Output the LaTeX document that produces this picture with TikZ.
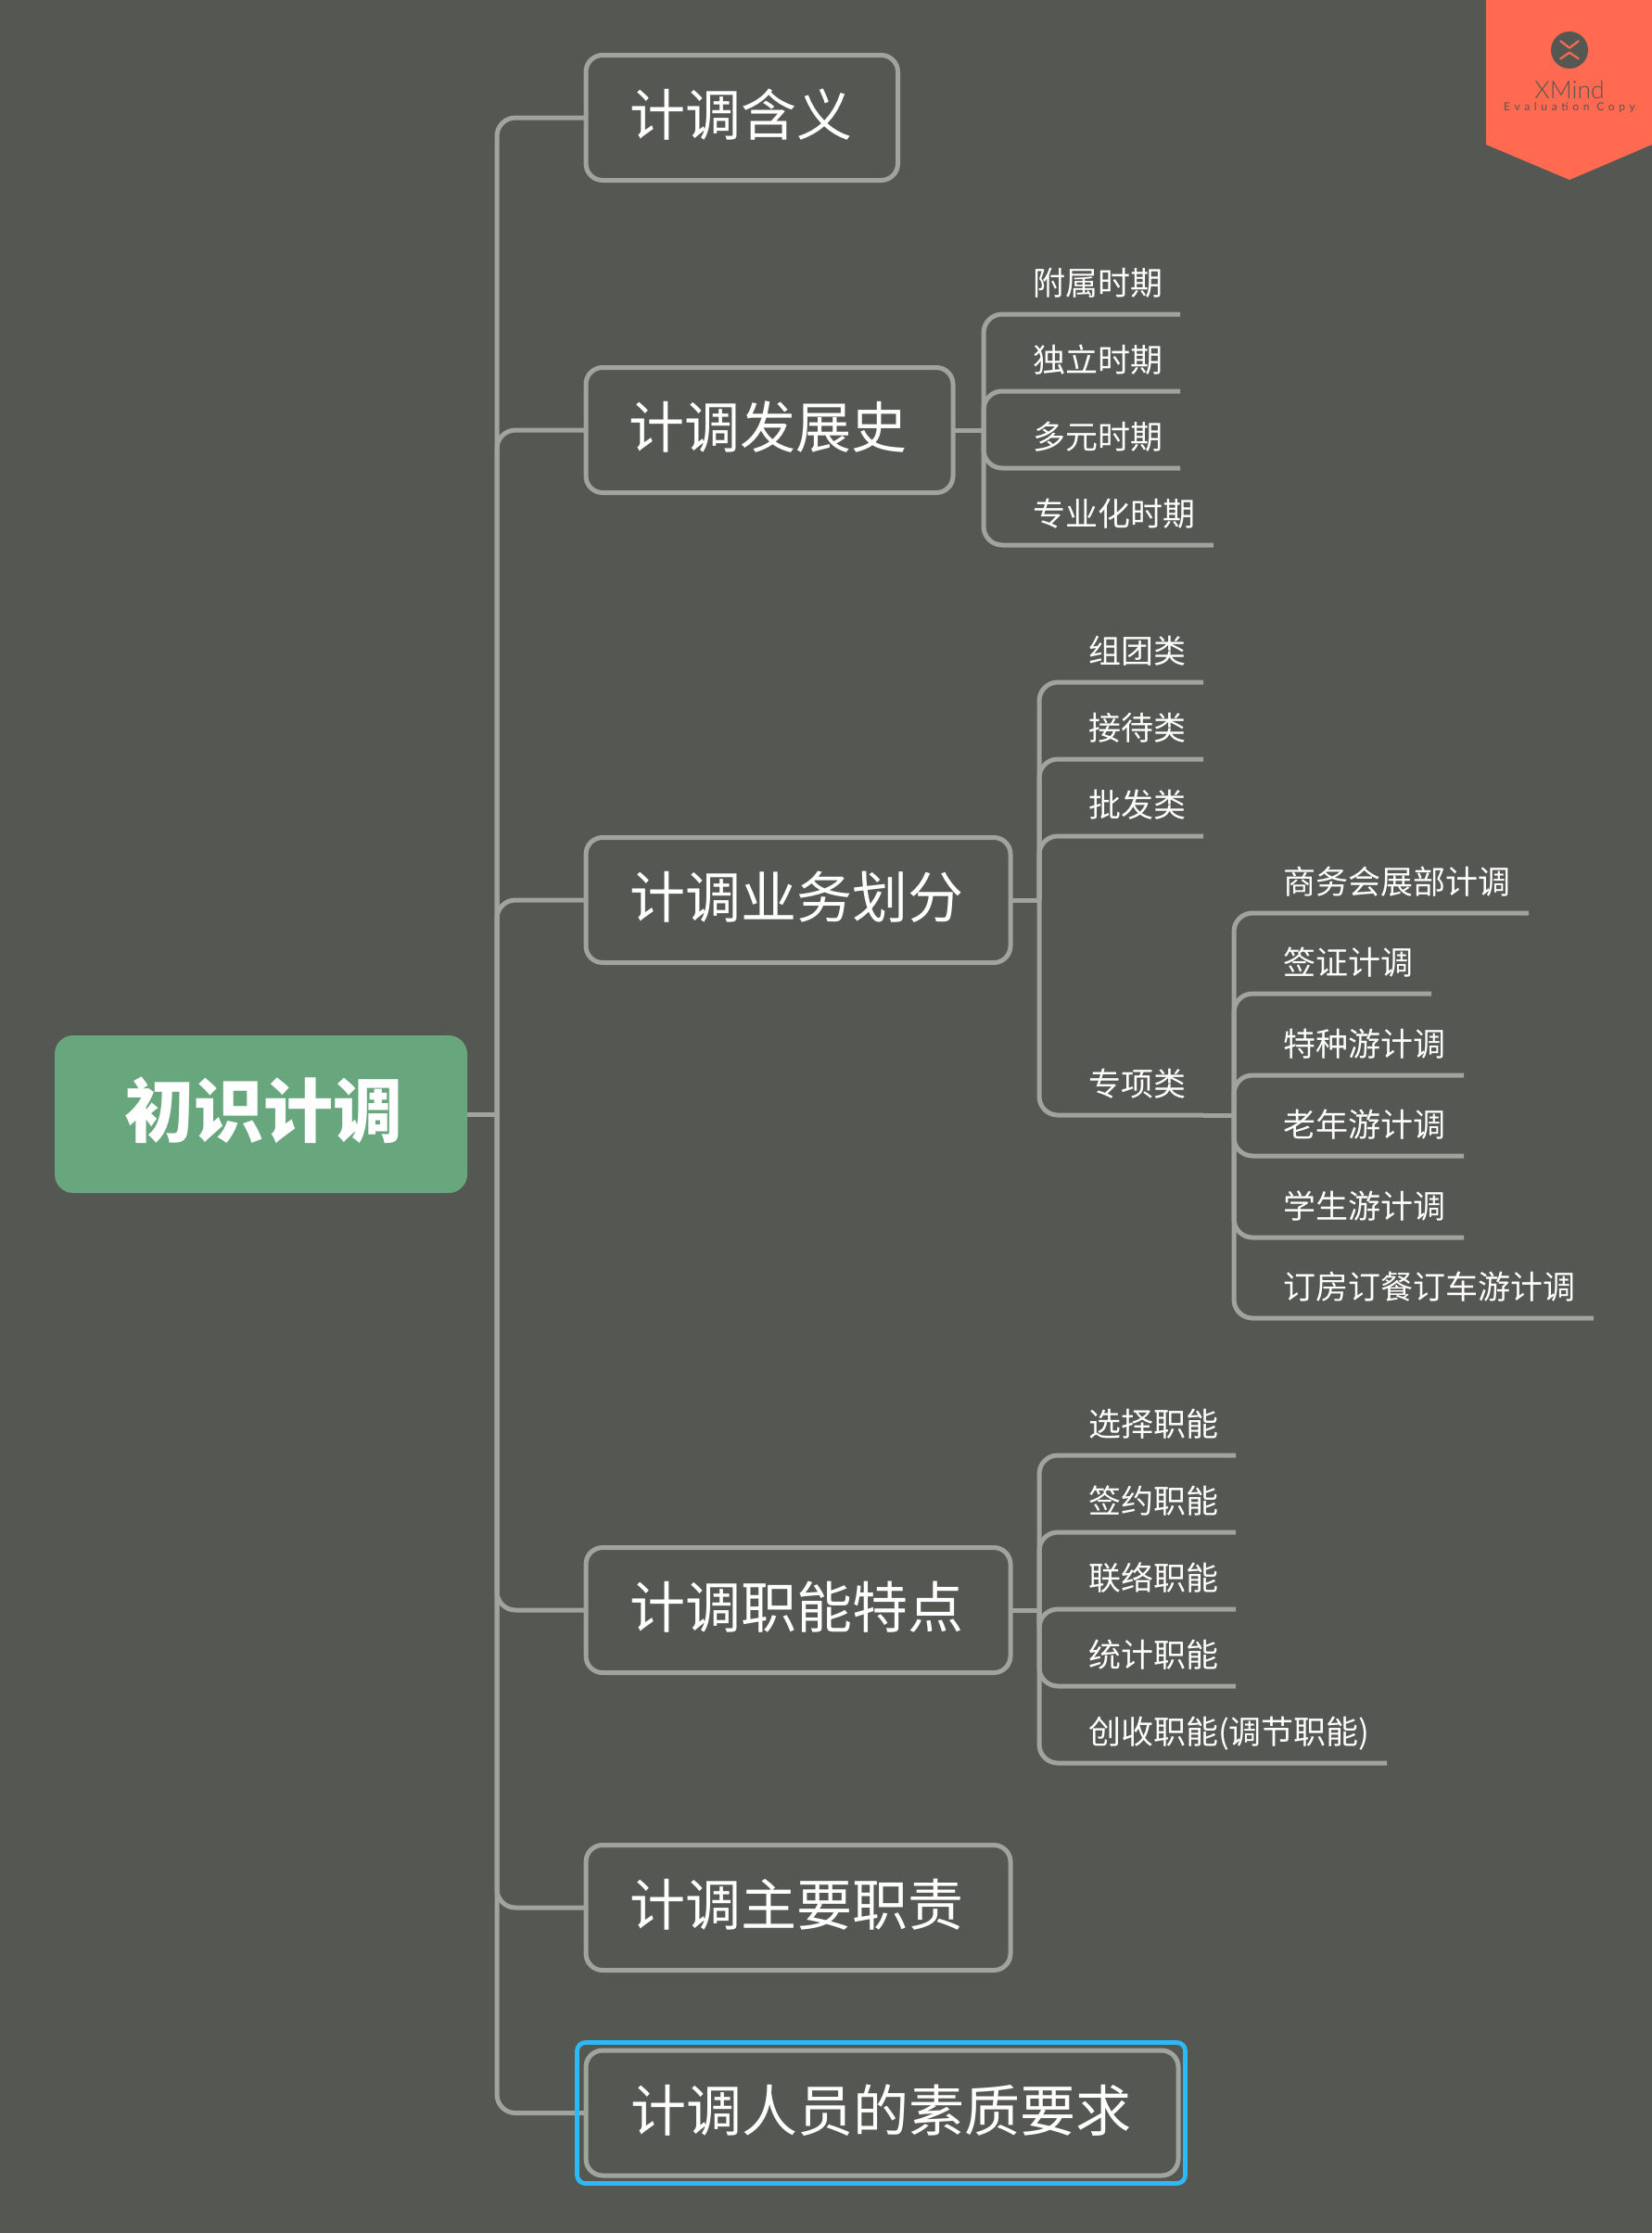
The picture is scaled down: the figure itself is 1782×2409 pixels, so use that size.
\documentclass[tikz,border=0pt]{standalone}
\usepackage{fontspec}
\setmainfont{Noto Sans CJK SC}
\newfontfamily\latinmark{Lato Light}
\newfontfamily\latinsmall{Lato}
\definecolor{bgc}{HTML}{555753}
\definecolor{linec}{HTML}{A0A39E}
\definecolor{rootc}{HTML}{68A67E}
\definecolor{flagc}{HTML}{FF6A50}
\definecolor{selc}{HTML}{2DB9F5}
\tikzset{
  rootbox/.style={fill=rootc,rounded corners=10pt,inner sep=0pt,outer sep=0pt,minimum width=222.5pt,minimum height=85pt,text=white,text height=31pt,text depth=6.3pt,font=\fontsize{37.5pt}{37.5pt}\selectfont\bfseries},
  mainbox/.style={draw=linec,line width=2.5pt,rounded corners=9pt,inner sep=0pt,outer sep=0pt,minimum height=67.5pt,anchor=west,text=white,text height=24pt,text depth=4.2pt,font=\fontsize{30pt}{30pt}\selectfont},
  selbox/.style={draw=selc,line width=2.4pt,rounded corners=4.5pt,inner sep=0pt,outer sep=0pt,minimum width=328pt,minimum height=76pt},
  leaf/.style={inner sep=0pt,outer sep=0pt,minimum height=34pt,anchor=south west,align=left,text=white,text height=15pt,text depth=1.7pt,font=\fontsize{17.5pt}{17.5pt}\selectfont},
  conn/.style={draw=linec,line width=2.5pt,rounded corners=10pt}
}
\begin{document}
\begin{tikzpicture}[x=0.5pt,y=-0.5pt]
\fill[bgc] (0,0) rectangle (1782,2409);
\useasboundingbox (0,0) rectangle (1782,2409);
% evaluation flag
\fill[flagc] (1603,0) -- (1782,0) -- (1782,156) -- (1693,194) -- (1603,156) -- cycle;
\fill[bgc] (1693,54) circle[radius=20];
\draw[flagc,line width=1.1pt,line cap=round,line join=round] (1683.3,44.3) -- (1693,51.7) -- (1702.7,44.3);
\draw[flagc,line width=1.1pt,line cap=round,line join=round] (1683.3,63.3) -- (1693,56.7) -- (1702.7,63.3);
\node[text=bgc,inner sep=0pt,font=\latinmark\fontsize{13.2pt}{13.2pt}\selectfont] (wm1) at (1693,97) {XMind};
\node[text=bgc,inner sep=0pt,font=\latinsmall\fontsize{6pt}{6pt}\selectfont] (wm2) at (1693,116) {\addfontfeatures{LetterSpace=39}Evaluation Copy};

% root and main topics
\node[rootbox] (root) at (281.5,1202) {\hspace*{3pt}初识计调};
\coordinate (spine) at (536,1202);
\node[mainbox,minimum width=168.25pt] (t1) at (632,127) {\hspace*{-1pt}计调含义};
\node[mainbox,minimum width=198pt] (t2) at (632,464) {\hspace*{-2pt}计调发展史};
\node[mainbox,minimum width=229pt] (t3) at (632,971) {\hspace*{-2pt}计调业务划分};
\node[mainbox,minimum width=229pt] (t4) at (632,1737) {\hspace*{-2pt}计调职能特点};
\node[mainbox,minimum width=229pt] (t5) at (632,2058) {\hspace*{-2pt}计调主要职责};
\node[mainbox,minimum width=319.5pt] (t6) at (632,2279.5) {\hspace*{-1pt}计调人员的素质要求};

\draw[conn] (root.east) -- (spine);
\foreach \t in {t1,t2,t3,t4,t5,t6}{\draw[conn] (spine) |- (\t.west);}

% history
\coordinate (b2) at (1061,464);
\draw[conn] (t2.east) -- (b2);
\node[leaf,text width=79.5pt] (a1) at (1114,339) {附属时期};
\node[leaf,text width=79.5pt] (a2) at (1114,422) {独立时期};
\node[leaf,text width=79.5pt] (a3) at (1114,505) {多元时期};
\node[leaf,text width=97.5pt] (a4) at (1114,588) {专业化时期};
\foreach \n in {a1,a2,a3,a4}{\draw[conn] (b2) |- (\n.south west) -- (\n.south east);}

% business
\coordinate (b3) at (1121,971);
\draw[conn] (t3.east) -- (b3);
\node[leaf,text width=62pt] (c1) at (1174,736) {组团类};
\node[leaf,text width=62pt] (c2) at (1174,819) {接待类};
\node[leaf,text width=62pt] (c3) at (1174,902) {批发类};
\node[leaf,text width=62pt] (c4) at (1174,1203) {专项类};
\foreach \n in {c1,c2,c3,c4}{\draw[conn] (b3) |- (\n.south west) -- (\n.south east);}

% special
\coordinate (b4) at (1331,1203);
\draw[conn] (c4.south east) -- (b4);
\node[leaf,text width=132.5pt] (d1) at (1384,985) {商务会展部计调};
\node[leaf,text width=80pt] (d2) at (1384,1072) {签证计调};
\node[leaf,text width=97.5pt] (d3) at (1384,1160) {特种游计调};
\node[leaf,text width=97.5pt] (d4) at (1384,1247) {老年游计调};
\node[leaf,text width=97.5pt] (d5) at (1384,1335) {学生游计调};
\node[leaf,text width=167.5pt] (d6) at (1384,1422) {订房订餐订车游计调};
\foreach \n in {d1,d2,d3,d4,d5,d6}{\draw[conn] (b4) |- (\n.south west) -- (\n.south east);}

% functions
\coordinate (b5) at (1121,1737);
\draw[conn] (t4.east) -- (b5);
\node[leaf,text width=79.5pt] (e1) at (1174,1570) {选择职能};
\node[leaf,text width=79.5pt] (e2) at (1174,1653) {签约职能};
\node[leaf,text width=79.5pt] (e3) at (1174,1736) {联络职能};
\node[leaf,text width=79.5pt] (e4) at (1174,1819) {统计职能};
\node[leaf,text width=161pt] (e5) at (1174,1902) {创收职能(调节职能)};
\foreach \n in {e1,e2,e3,e4,e5}{\draw[conn] (b5) |- (\n.south west) -- (\n.south east);}

% selection frame
\node[selbox] (sel) at (950.5,2279.5) {};
\end{tikzpicture}
\end{document}
